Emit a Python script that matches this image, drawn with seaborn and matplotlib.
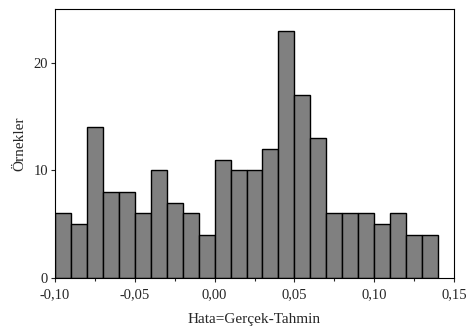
import numpy as np
import pandas as pd
import matplotlib
matplotlib.use("Agg")
import matplotlib.pyplot as plt
import seaborn as sns
from matplotlib.ticker import FuncFormatter, MultipleLocator

bin_centers = [-0.095, -0.085, -0.075, -0.065, -0.055, -0.045, -0.035, -0.025,
               -0.015, -0.005, 0.005, 0.015, 0.025, 0.035, 0.045, 0.055,
               0.065, 0.075, 0.085, 0.095, 0.105, 0.115, 0.125, 0.135]
counts = [6, 5, 14, 8, 8, 6, 10, 7, 6, 4, 11, 10, 10, 12, 23, 17, 13,
          6, 6, 6, 5, 6, 4, 4]
x_ticks = [-0.10, -0.05, 0.00, 0.05, 0.10, 0.15]
y_ticks = [0, 10, 20]

sns.set_style("ticks")
plt.rcParams['font.family'] = ['Liberation Serif', 'DejaVu Serif']

df = pd.DataFrame({"err": bin_centers, "n": counts})

fig = plt.figure(figsize=(4.69, 3.27), dpi=100)
ax = fig.add_axes([55/469, 1 - 278/327, (454-55)/469, (278-9)/327])

sns.histplot(data=df, x="err", weights="n", bins=24, binrange=(-0.10, 0.14), ax=ax,
             color="#808080", alpha=1, edgecolor="black", linewidth=1.0)

ax.set_xlim(-0.10, 0.15)
ax.set_ylim(0, 25)
ax.set_xticks(x_ticks)
ax.xaxis.set_minor_locator(MultipleLocator(0.025))
ax.set_yticks(y_ticks)
ax.xaxis.set_major_formatter(FuncFormatter(lambda v, p: f"{v:.2f}".replace(".", ",").replace("-0,00", "0,00")))
ax.tick_params(axis="both", which="major", direction="out", length=3, width=0.8, labelsize=10.5)
ax.tick_params(axis="x", which="major", pad=4)
ax.tick_params(axis="y", which="major", pad=2)
ax.tick_params(axis="x", which="minor", direction="out", length=2, width=0.8)
for s in ax.spines.values():
    s.set_visible(True)
    s.set_linewidth(0.8)
    s.set_color("black")
ax.set_xlabel("Hata=Gerçek-Tahmin", fontsize=11, labelpad=9)
ax.set_ylabel("Örnekler", fontsize=11, labelpad=5)

fig.savefig("out.png", dpi=100)
